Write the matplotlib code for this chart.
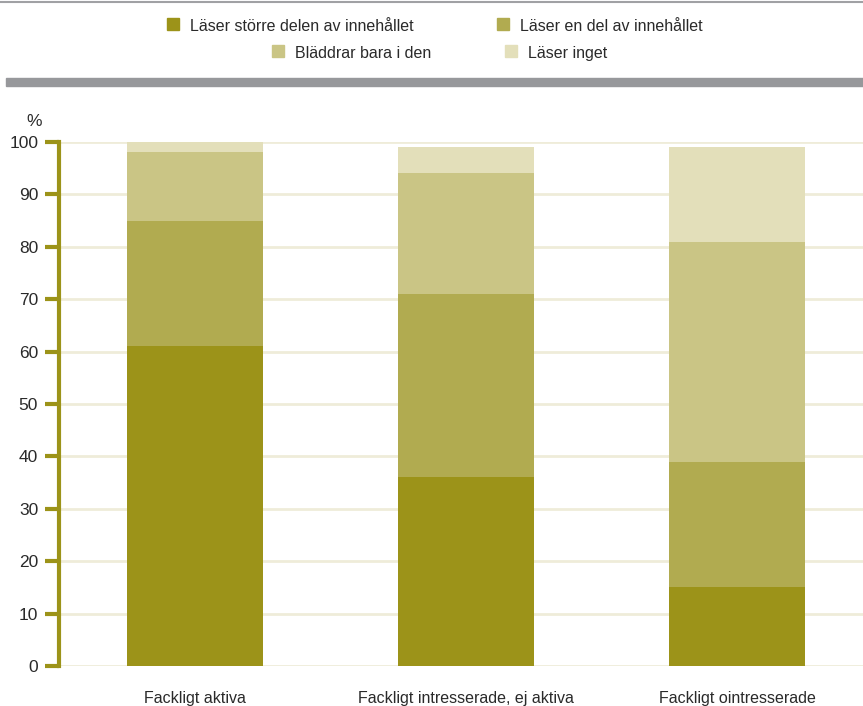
import matplotlib
matplotlib.use("Agg")
from matplotlib import pyplot as plt
from matplotlib.patches import Rectangle
from matplotlib.lines import Line2D
import numpy as np

plt.rcParams['font.family'] = ['Liberation Sans', 'DejaVu Sans']

categories = ["Fackligt aktiva", "Fackligt intresserade, ej aktiva", "Fackligt ointresserade"]
series_names = ["Läser större delen av innehållet", "Läser en del av innehållet",
                "Bläddrar bara i den", "Läser inget"]
las_storre = [61, 36, 15]
las_del = [24, 35, 24]
bladdrar = [13, 23, 42]
las_inget = [2, 5, 18]
yticks = [0, 10, 20, 30, 40, 50, 60, 70, 80, 90, 100]

colors = ["#9c9319", "#b1ab50", "#cac585", "#e3dfba"]
olive = "#9c9319"
text_col = "#2a2a2a"

fig = plt.figure(figsize=(8.63, 7.06), dpi=100)
ax = fig.add_axes([59 / 863, 1 - 666 / 706, 1 - 59 / 863, (666 - 142) / 706])

x = np.arange(len(categories))
bottom = np.zeros(len(categories))
for vals, c in zip([las_storre, las_del, bladdrar, las_inget], colors):
    ax.bar(x, vals, 0.502, bottom=bottom, color=c, zorder=3, clip_on=False)
    bottom += np.array(vals)

ax.set_xlim(-0.502, 2.465)
ax.set_ylim(0, 100)
ax.set_yticks(yticks)
ax.set_yticklabels([str(t) for t in yticks], fontsize=12.5, color=text_col)
ax.yaxis.grid(True, color="#efecd9", linewidth=2, zorder=0)
ax.set_axisbelow(True)
ax.set_xticks(x)
ax.set_xticklabels(categories, fontsize=11.5, color=text_col)
ax.tick_params(axis="x", length=0, pad=18)
ax.tick_params(axis="y", length=10, width=3, color=olive, pad=5)
for s in ["top", "right", "bottom"]:
    ax.spines[s].set_visible(False)
ax.spines["left"].set_color(olive)
ax.spines["left"].set_linewidth(3)

fig.text(34 / 863, 1 - 122 / 706, "%", fontsize=12.5, color=text_col, ha="center", va="center")

# top rules
fig.add_artist(Line2D([0, 1], [1 - 2 / 706, 1 - 2 / 706], color="#a0a1a4", linewidth=1.5))
fig.add_artist(Rectangle((6 / 863, 1 - 86 / 706), 1, 8 / 706, color="#97989b", transform=fig.transFigure))

# legend, drawn by hand to keep rows centered like the original
legend_pos = [(167, 24), (497, 24), (272, 51), (505, 51)]
for (lx, ly), name, c in zip(legend_pos, series_names, colors):
    fig.add_artist(Rectangle((lx / 863, 1 - (ly + 6) / 706), 12 / 863, 12 / 706,
                             color=c, transform=fig.transFigure))
    fig.text((lx + 23) / 863, 1 - (ly + 1) / 706, name, fontsize=11.5, color=text_col,
             ha="left", va="center_baseline")

fig.savefig("out.png", dpi=100)
